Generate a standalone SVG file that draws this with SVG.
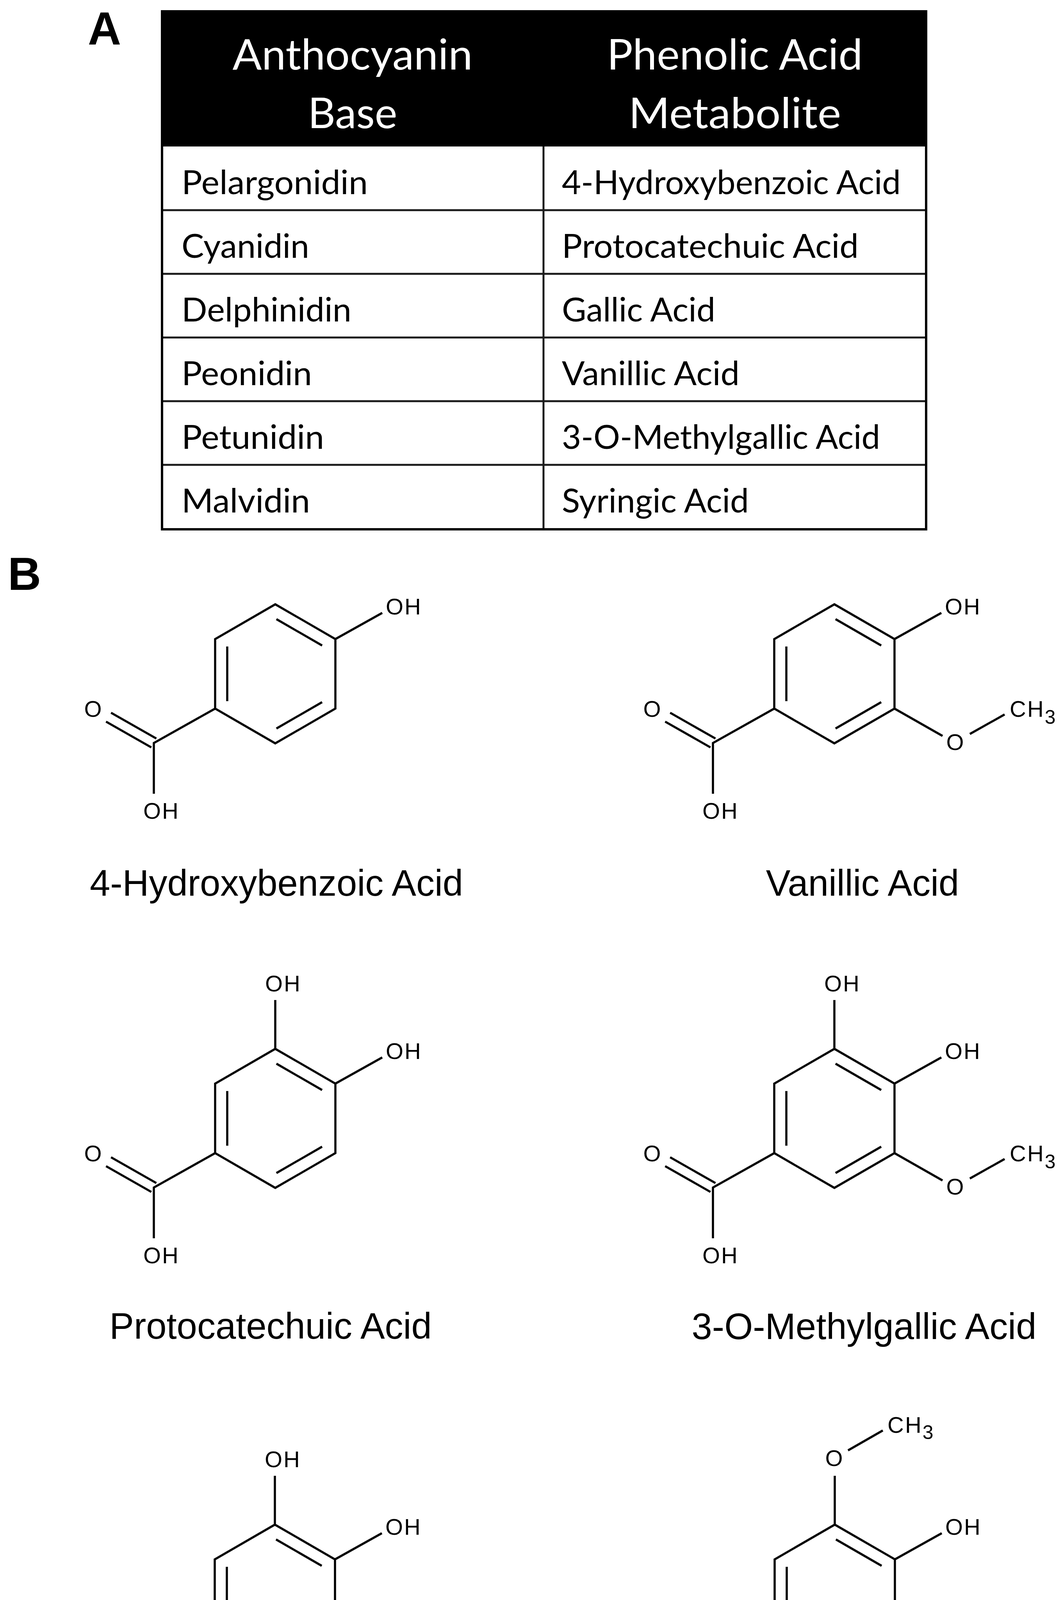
<svg xmlns="http://www.w3.org/2000/svg" xmlns:xlink="http://www.w3.org/1999/xlink" width="2720" height="4686" viewBox="0 0 2720 4686">
<style>
.bond{stroke:#000;stroke-width:5.5;fill:none;stroke-linecap:butt;stroke-linejoin:miter}
.lbl{font-family:"Liberation Sans",Arial,sans-serif;font-size:58px;fill:#000;letter-spacing:3px}
.lblm{font-family:"Liberation Sans",Arial,sans-serif;font-size:58px;fill:#000;text-anchor:middle}
.cap{font-family:"Liberation Sans",Arial,sans-serif;font-size:94px;fill:#000;text-anchor:middle}
.cell{font-family:Lato,"Open Sans",sans-serif;font-size:85px;fill:#000}
.head{font-family:Lato,"Open Sans",sans-serif;font-size:108px;fill:#fff;text-anchor:middle}
.panel{font-family:"Liberation Sans",Arial,sans-serif;font-weight:bold;font-size:118px;fill:#000}
.grid{stroke:#1a1a1a;stroke-width:5;fill:none}
</style>
<defs>
<g id="core">
<path class="bond" d="M0,-178 L154,-89 L154,89 L0,178 L-154,89 L-154,-89 Z"/>
<path class="bond" d="M3,-140 L120,-72.5 M-123,-70 L-123,70 M120,72.5 L3,140"/>
<path class="bond" d="M-154,89 L-311,177 L-311,307 M-420.6,99.7 L-304.6,165.7 M-433.4,122.3 L-317.4,188.3"/>
</g>
</defs>
<rect x="0" y="0" width="2720" height="4686" fill="#fff"/>

<text class="panel" x="225" y="114">A</text>
<text class="panel" x="20" y="1510">B</text>

<g id="table">
<rect x="415" y="29" width="1957" height="346" fill="#000"/>
<g class="grid">
<line x1="415" y1="538" x2="2372" y2="538"/>
<line x1="415" y1="701" x2="2372" y2="701"/>
<line x1="415" y1="864" x2="2372" y2="864"/>
<line x1="415" y1="1027" x2="2372" y2="1027"/>
<line x1="415" y1="1190" x2="2372" y2="1190"/>
<line x1="1392" y1="375" x2="1392" y2="1355"/>
</g>
<rect x="415" y="29" width="1957" height="1326" fill="none" stroke="#000" stroke-width="6"/>
<text class="head" x="903" y="178" textLength="615" lengthAdjust="spacingAndGlyphs">Anthocyanin</text>
<text class="head" x="903" y="328" textLength="229" lengthAdjust="spacingAndGlyphs">Base</text>
<text class="head" x="1882" y="178" textLength="655" lengthAdjust="spacingAndGlyphs">Phenolic Acid</text>
<text class="head" x="1882" y="328" textLength="544" lengthAdjust="spacingAndGlyphs">Metabolite</text>
<text class="cell" x="465" y="497" textLength="477" lengthAdjust="spacingAndGlyphs">Pelargonidin</text>
<text class="cell" x="465" y="660" textLength="327" lengthAdjust="spacingAndGlyphs">Cyanidin</text>
<text class="cell" x="465" y="823" textLength="435" lengthAdjust="spacingAndGlyphs">Delphinidin</text>
<text class="cell" x="465" y="986" textLength="334" lengthAdjust="spacingAndGlyphs">Peonidin</text>
<text class="cell" x="465" y="1149" textLength="365" lengthAdjust="spacingAndGlyphs">Petunidin</text>
<text class="cell" x="465" y="1312" textLength="329" lengthAdjust="spacingAndGlyphs">Malvidin</text>
<text class="cell" x="1439" y="497" textLength="868" lengthAdjust="spacingAndGlyphs">4-Hydroxybenzoic Acid</text>
<text class="cell" x="1439" y="660" textLength="760" lengthAdjust="spacingAndGlyphs">Protocatechuic Acid</text>
<text class="cell" x="1439" y="823" textLength="393" lengthAdjust="spacingAndGlyphs">Gallic Acid</text>
<text class="cell" x="1439" y="986" textLength="455" lengthAdjust="spacingAndGlyphs">Vanillic Acid</text>
<text class="cell" x="1439" y="1149" textLength="815" lengthAdjust="spacingAndGlyphs">3-O-Methylgallic Acid</text>
<text class="cell" x="1439" y="1312" textLength="479" lengthAdjust="spacingAndGlyphs">Syringic Acid</text>
</g>

<g id="hydroxybenzoic" transform="translate(705,1725)">
<use xlink:href="#core"/>
<path class="bond" d="M154,-89 L274,-156"/>
<text class="lbl" x="283" y="-152">OH</text>
<text class="lblm" x="-467" y="110">O</text>
<text class="lbl" x="-338" y="371">OH</text>
</g>
<text class="cap" x="708" y="2293">4-Hydroxybenzoic Acid</text>

<g id="vanillic" transform="translate(2137,1725)">
<use xlink:href="#core"/>
<path class="bond" d="M154,-89 L274,-156 M154,89 L277,159 M347,154 L436,104"/>
<text class="lbl" x="283" y="-152">OH</text>
<text class="lblm" x="309" y="195">O</text>
<text class="lbl" x="449" y="110">CH<tspan font-size="50" dy="18">3</tspan></text>
<text class="lblm" x="-467" y="110">O</text>
<text class="lbl" x="-338" y="371">OH</text>
</g>
<text class="cap" x="2209" y="2293">Vanillic Acid</text>

<g id="protocatechuic" transform="translate(705,2863)">
<use xlink:href="#core"/>
<path class="bond" d="M154,-89 L274,-156 M0,-178 L0,-303"/>
<text class="lbl" x="283" y="-152">OH</text>
<text class="lbl" x="-26" y="-325">OH</text>
<text class="lblm" x="-467" y="110">O</text>
<text class="lbl" x="-338" y="371">OH</text>
</g>
<text class="cap" x="693" y="3427">Protocatechuic Acid</text>

<g id="methylgallic" transform="translate(2137,2863)">
<use xlink:href="#core"/>
<path class="bond" d="M154,-89 L274,-156 M0,-178 L0,-303 M154,89 L277,159 M347,154 L436,104"/>
<text class="lbl" x="283" y="-152">OH</text>
<text class="lbl" x="-26" y="-325">OH</text>
<text class="lblm" x="309" y="195">O</text>
<text class="lbl" x="449" y="110">CH<tspan font-size="50" dy="18">3</tspan></text>
<text class="lblm" x="-467" y="110">O</text>
<text class="lbl" x="-338" y="371">OH</text>
</g>
<text class="cap" x="2213" y="3428">3-O-Methylgallic Acid</text>

<g id="gallic" transform="translate(704,4081)">
<use xlink:href="#core"/>
<path class="bond" d="M154,-89 L274,-156 M0,-178 L0,-303 M154,89 L272,154"/>
<text class="lbl" x="283" y="-152">OH</text>
<text class="lbl" x="-26" y="-325">OH</text>
<text class="lbl" x="283" y="194">OH</text>
<text class="lblm" x="-467" y="110">O</text>
<text class="lbl" x="-338" y="371">OH</text>
</g>
<text class="cap" x="692" y="4645">Gallic Acid</text>

<g id="syringic" transform="translate(2138,4081)">
<use xlink:href="#core"/>
<path class="bond" d="M154,-89 L274,-156 M0,-178 L0,-303 M34,-368 L123,-419 M154,89 L277,159 M347,154 L436,104"/>
<text class="lbl" x="283" y="-152">OH</text>
<text class="lblm" x="-2" y="-328">O</text>
<text class="lbl" x="135" y="-413">CH<tspan font-size="50" dy="16">3</tspan></text>
<text class="lblm" x="309" y="195">O</text>
<text class="lbl" x="449" y="110">CH<tspan font-size="50" dy="18">3</tspan></text>
<text class="lblm" x="-467" y="110">O</text>
<text class="lbl" x="-338" y="371">OH</text>
</g>
<text class="cap" x="2203" y="4645">Syringic Acid</text>
</svg>
